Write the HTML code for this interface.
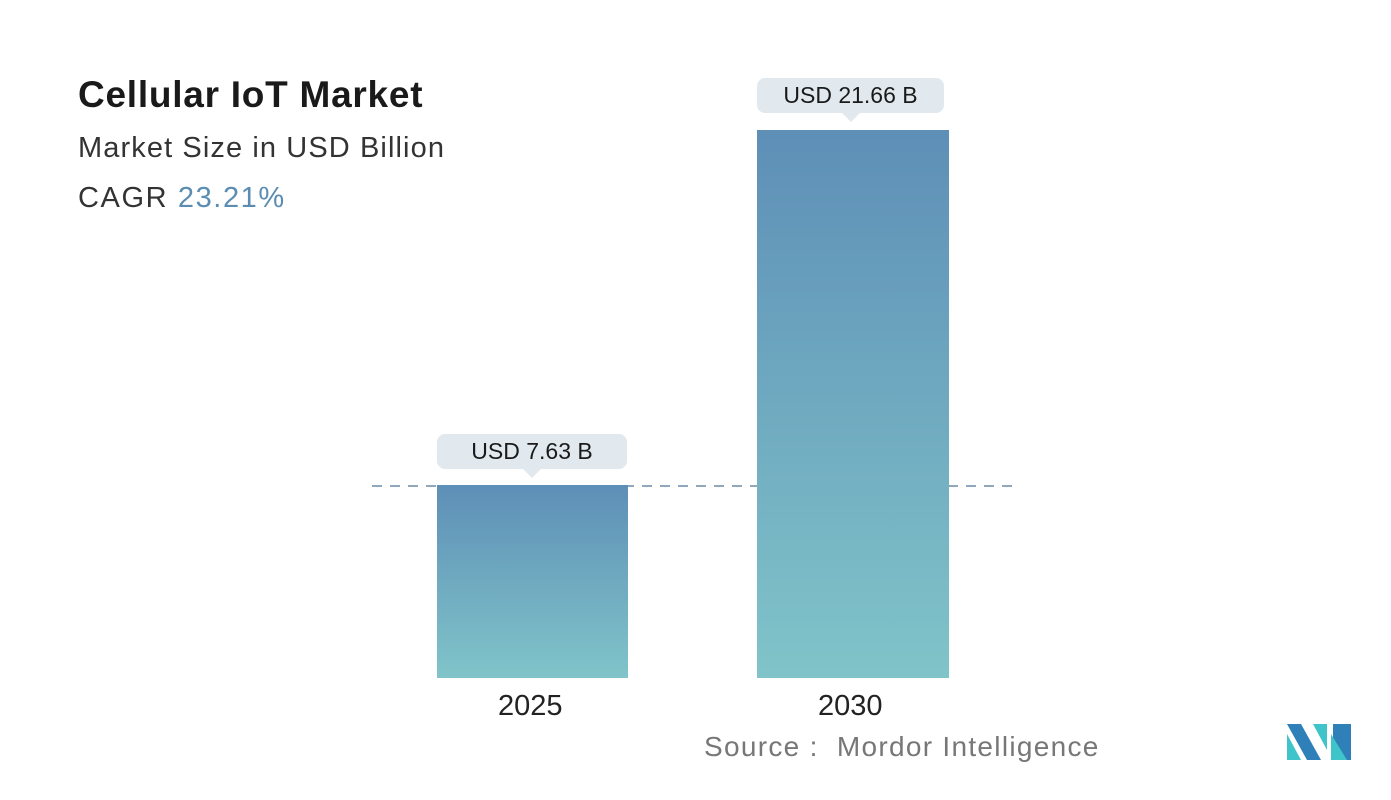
<!DOCTYPE html>
<html><head><style>
body{margin:0;width:1391px;height:800px;background:#fff;position:relative;overflow:hidden;font-family:"Liberation Sans",sans-serif;}
.t{position:absolute;white-space:nowrap;}
.bar{position:absolute;background:linear-gradient(#5e8fb7,#80c4c9);}
.lab{position:absolute;background:#e1e9ee;border-radius:8px;text-align:center;font-size:23px;color:#1a1a1a;line-height:35px;}
.lab:after{content:"";position:absolute;left:50%;bottom:-9px;margin-left:-9px;border-left:9px solid transparent;border-right:9px solid transparent;border-top:9px solid #e1e9ee;}
</style></head><body>
<div class="t" style="left:78px;top:74px;font-size:37px;font-weight:bold;color:#1a1a1a;letter-spacing:0.75px;">Cellular IoT Market</div>
<div class="t" style="left:78px;top:132px;font-size:29px;color:#333;letter-spacing:1.1px;">Market Size in USD Billion</div>
<div class="t" style="left:78px;top:182px;font-size:29px;color:#333;letter-spacing:1.6px;">CAGR <span style="color:#5b8db3">23.21%</span></div>
<svg style="position:absolute;left:0;top:0" width="1391" height="800"><line x1="372" y1="486" x2="1018" y2="486" stroke="#6b8aa5" stroke-width="1.5" stroke-dasharray="10,8"/></svg>
<div class="bar" style="left:437px;top:485px;width:191px;height:193px;"></div>
<div class="bar" style="left:757px;top:130px;width:192px;height:548px;"></div>
<div class="lab" style="left:437px;top:434px;width:190px;height:35px;">USD 7.63 B</div>
<div class="lab" style="left:757px;top:78px;width:187px;height:35px;">USD 21.66 B</div>
<div class="t" style="left:498px;top:690px;font-size:29px;color:#222;">2025</div>
<div class="t" style="left:818px;top:690px;font-size:29px;color:#222;">2030</div>
<div class="t" style="left:704px;top:731px;font-size:28px;color:#777;letter-spacing:1.3px;">Source :&nbsp; Mordor Intelligence</div>
<svg style="position:absolute;left:1287px;top:724px" width="64" height="36">
<polygon points="0,0 14,0 34,36 20,36" fill="#2f80b8"/>
<polygon points="0,10 0,36 14,36" fill="#3ec4c9"/>
<polygon points="26,0 40,0 40,26" fill="#3ec4c9"/>
<polygon points="46,0 64,0 64,36 46,36" fill="#2f80b8"/>
<polygon points="44,10 44,36 60,36" fill="#3ec4c9"/>
</svg>
</body></html>
